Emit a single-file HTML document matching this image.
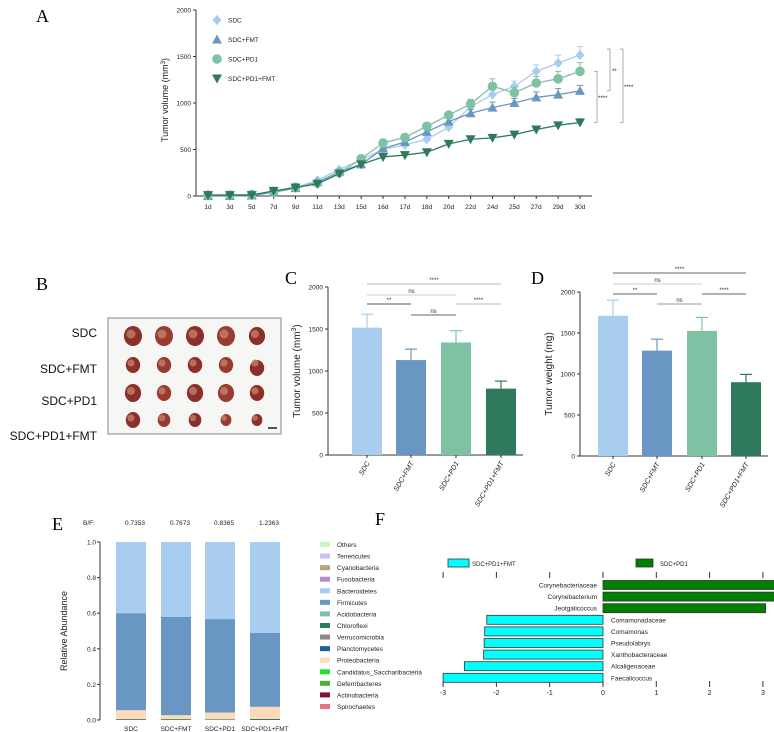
<!DOCTYPE html>
<html><head><meta charset="utf-8"><style>
html,body{margin:0;padding:0;background:#fff;}
svg{display:block;font-family:"Liberation Sans",Arial,sans-serif;}
.pl{font-family:"Liberation Serif",serif;font-size:18px;}
</style></head><body>
<svg id="fig" width="774" height="732" viewBox="0 0 774 732">
<text class="pl" x="36" y="22">A</text>
<text class="pl" x="36" y="290">B</text>
<text class="pl" x="285" y="284">C</text>
<text class="pl" x="531" y="284">D</text>
<text class="pl" x="52" y="530">E</text>
<text class="pl" x="375" y="525">F</text>
<g id="pA"></g>
<g id="pB"></g>
<g id="pC"></g>
<g id="pD"></g>
<g id="pE"></g>
<g id="pF"></g>
</svg>
<script>
// ---------- data ----------
const days = ["1d","3d","5d","7d","9d","11d","13d","15d","16d","17d","18d","20d","22d","24d","25d","27d","29d","30d"];
const seriesNames = ["SDC","SDC+FMT","SDC+PD1","SDC+PD1+FMT"];
const sdcVol = [0,0,10,40,90,170,285,390,500,550,610,740,960,1090,1180,1340,1430,1516];
const fmtVol = [0,0,5,40,85,150,260,340,510,580,690,800,890,950,1000,1060,1090,1130];
const pd1Vol = [10,10,15,50,95,140,250,400,570,630,750,870,990,1180,1110,1215,1260,1340];
const pd1FmtVol = [10,10,10,55,90,130,240,340,420,440,470,560,610,625,660,715,760,790];
const lineErr = [
 [0,0,5,8,10,15,15,20,25,30,30,35,40,50,55,70,85,90],
 [0,0,5,8,10,15,15,20,25,30,30,35,40,60,50,60,65,60],
 [0,0,5,8,10,15,15,20,25,30,40,35,50,80,60,70,80,95],
 [0,0,5,8,10,10,15,15,20,20,20,25,25,30,30,30,30,40]];
const volTicks = [0,500,1000,1500,2000];
const barGroups = ["SDC","SDC+FMT","SDC+PD1","SDC+PD1+FMT"];
const volMeans = [1516,1130,1340,790];
const volErr = [160,130,140,90];
const wtMeans = [1710,1285,1525,900];
const wtErr = [190,140,165,95];
const bfRatios = ["0.7353","0.7673","0.8365","1.2363"];
const proteoFrac = [0.05,0.022,0.038,0.068];
const firmFrac = [0.545,0.553,0.525,0.415];
const otherFrac = [0.005,0.005,0.004,0.006];
const abundTicks = [0,0.2,0.4,0.6,0.8,1.0];
const phyla = ["Others","Tenericutes","Cyanobacteria","Fusobacteria","Bacteroidetes","Firmicutes","Acidobacteria","Chloroflexi","Verrucomicrobia","Planctomycetes","Proteobacteria","Candidatus_Saccharibacteria","Deferribacteres","Actinobacteria","Spirochaetes"];
const taxa = ["Corynebacteriaceae","Corynebacterium","Jeotgalicoccus","Comamonadaceae","Comamonas","Pseudolabrys","Xanthobacteraceae","Alcaligenaceae","Faecalicoccus"];
const ldaScores = [3.38,3.36,3.05,-2.18,-2.22,-2.23,-2.24,-2.6,-3.0];
const ldaTicks = [-3,-2,-1,0,1,2,3];

// ---------- helpers ----------
const NS="http://www.w3.org/2000/svg";
function mk(parent,tag,attrs,txt){const e=document.createElementNS(NS,tag);for(const k in attrs)e.setAttribute(k,attrs[k]);if(txt!==undefined)e.textContent=txt;parent.appendChild(e);return e;}
const colors=["#a9cdef","#6a96c3","#7fc1a3","#2f7a5c"];

// ---------- Panel A ----------
(function(){
 const g=document.getElementById('pA');
 const x0=196,x1=592,yb=196,yt=10;
 const xs=i=>208+i*(580-208)/(days.length-1);
 const ys=v=>yb-(v/2000)*(yb-yt);
 let e=mk(g,'line',{x1:x0,y1:yt,x2:x0,y2:yb,stroke:'#333','stroke-width':1});
 
 e=mk(g,'line',{x1:x0,y1:yb,x2:x1,y2:yb,stroke:'#333','stroke-width':1});
 
 volTicks.forEach(t=>{mk(g,'line',{x1:x0-3,y1:ys(t),x2:x0,y2:ys(t),stroke:'#333'});
  e=mk(g,'text',{x:x0-5,y:ys(t)+2.5,'font-size':6.5,'text-anchor':'end',fill:'#222'},t);
  });
 days.forEach((d,i)=>{mk(g,'line',{x1:xs(i),y1:yb,x2:xs(i),y2:yb+3,stroke:'#333'});
  e=mk(g,'text',{x:xs(i),y:yb+13,'font-size':6.5,'text-anchor':'middle',fill:'#222'},d);
  });
 e=mk(g,'text',{x:0,y:0,'font-size':9,'text-anchor':'middle',fill:'#222',transform:'translate(168,100) rotate(-90)'});
 e.innerHTML='Tumor volume (mm<tspan dy="-3" font-size="6">3</tspan><tspan dy="3">)</tspan>';
 
 const all=[sdcVol,fmtVol,pd1Vol,pd1FmtVol];
 function marker(p,k,x,y){const c=colors[k];let m;
  if(k===0)m=mk(p,'polygon',{points:`${x},${y-5} ${x+4.5},${y} ${x},${y+5} ${x-4.5},${y}`,fill:c});
  else if(k===1)m=mk(p,'polygon',{points:`${x},${y-5} ${x+5},${y+4} ${x-5},${y+4}`,fill:c});
  else if(k===2)m=mk(p,'circle',{cx:x,cy:y,r:4.8,fill:c});
  else m=mk(p,'polygon',{points:`${x-5},${y-4} ${x+5},${y-4} ${x},${y+5}`,fill:c});
  return m;}
 all.forEach((s,k)=>{
  const sg=mk(g,'g',{});
  s.forEach((v,i)=>{const er=lineErr[k][i];if(er>0){mk(sg,'line',{x1:xs(i),y1:ys(v),x2:xs(i),y2:ys(v+er),stroke:colors[k],'stroke-width':1});
   mk(sg,'line',{x1:xs(i)-3,y1:ys(v+er),x2:xs(i)+3,y2:ys(v+er),stroke:colors[k],'stroke-width':1});}});
  mk(sg,'polyline',{points:s.map((v,i)=>xs(i)+','+ys(v)).join(' '),fill:'none',stroke:colors[k],'stroke-width':1.3});
  s.forEach((v,i)=>{const m=marker(sg,k,xs(i),ys(v));});
 });
 seriesNames.forEach((n,k)=>{const ly=20+k*19.5;const lg=mk(g,'g',{});
  
  marker(lg,k,217,ly);mk(lg,'text',{x:228,y:ly+2.5,'font-size':6.5,fill:'#222'},n);});
 // significance brackets
 function br(x,va,vb,lab,lx){mk(g,'polyline',{points:`${x-3},${ys(va)} ${x},${ys(va)} ${x},${ys(vb)} ${x-3},${ys(vb)}`,fill:'none',stroke:'#999','stroke-width':0.8});
  const t=mk(g,'text',{x:lx,y:(ys(va)+ys(vb))/2+3,'font-size':6,fill:'#222'},lab);}
 br(597,1340,790,'****',598);br(610,1580,1130,'**',612);br(623,1580,790,'****',624);
})();

// ---------- Panel B (photo) ----------
(function(){
 const g=document.getElementById('pB');
 let e=mk(g,'rect',{x:108,y:318,width:173,height:116,fill:'#f6f6f4',stroke:'#999','stroke-width':1.2});
 
 const labs=["SDC","SDC+FMT","SDC+PD1","SDC+PD1+FMT"];const ry=[333,369,401,436];
 const sizes=[[10,10,10,10,9],[8,8,8,8,8],[9,8,9,9,8],[8,7,7,6,6]];
 labs.forEach((l,r)=>{e=mk(g,'text',{x:97,y:ry[r]+4,'font-size':12,'text-anchor':'end',fill:'#111'},l);
  
  const yy=[336,365,393,420][r];
  for(let c=0;c<5;c++){const cx=133+c*31;const s=sizes[r][c];
   const t=mk(g,'ellipse',{cx:cx,cy:yy+(r===1&&c===4?3:0),rx:s*0.9,ry:s,fill:c%2?'#9a3b32':'#8c2f2a'});
   
   mk(g,'ellipse',{cx:cx-2,cy:yy-2,rx:s*0.45,ry:s*0.45,fill:'#c98a70',opacity:0.7});}
 });
 mk(g,'rect',{x:268,y:427,width:9,height:2,fill:'#555'});
})();

// ---------- Panels C & D ----------
function barPanel(id,means,errs,ax,yb,yt,centers,title,sig,pre){
 const g=document.getElementById(id);
 const ys=v=>yb-(v/2000)*(yb-yt);
 let e=mk(g,'line',{x1:ax,y1:yt,x2:ax,y2:yb,stroke:'#333'});
 e=mk(g,'line',{x1:ax,y1:yb,x2:centers[3]+22,y2:yb,stroke:'#333'});
 volTicks.forEach(t=>{mk(g,'line',{x1:ax-3,y1:ys(t),x2:ax,y2:ys(t),stroke:'#333'});
  e=mk(g,'text',{x:ax-5,y:ys(t)+2.5,'font-size':6.5,'text-anchor':'end',fill:'#222'},t);});
 means.forEach((m,i)=>{const cx=centers[i];
  mk(g,'line',{x1:cx,y1:ys(m),x2:cx,y2:ys(m+errs[i]),stroke:colors[i],'stroke-width':1.2});
  mk(g,'line',{x1:cx-6,y1:ys(m+errs[i]),x2:cx+6,y2:ys(m+errs[i]),stroke:colors[i],'stroke-width':1.2});
  e=mk(g,'rect',{x:cx-15,y:ys(m),width:30,height:yb-ys(m),fill:colors[i]});
  mk(g,'line',{x1:cx,y1:yb,x2:cx,y2:yb+3,stroke:'#333'});
  e=mk(g,'text',{x:0,y:0,'font-size':7,'font-style':'italic','text-anchor':'end',fill:'#222',transform:`translate(${cx+3},${yb+8}) rotate(-60)`},barGroups[i]);
  });
 e=mk(g,'text',{x:0,y:0,'font-size':10,'text-anchor':'middle',fill:'#222',transform:`translate(${ax-28},${(yb+yt)/2}) rotate(-90)`});
 e.innerHTML=title;
 sig.forEach(s=>{mk(g,'line',{x1:centers[s[0]],y1:s[2],x2:centers[s[1]],y2:s[2],stroke:s[4],'stroke-width':0.9});
  e=mk(g,'text',{x:(centers[s[0]]+centers[s[1]])/2,y:s[2]-2,'font-size':6,'text-anchor':'middle',fill:'#333'},s[3]);});
}
barPanel('pC',volMeans,volErr,328,455,287,[367,411,456,501],'Tumor volume (mm<tspan dy="-4" font-size="7">3</tspan><tspan dy="4">)</tspan>',
 [[0,3,284,'****','#bbb'],[0,2,295,'ns','#ccc'],[0,1,304,'**','#555'],[2,3,304,'****','#bbb'],[1,2,315,'ns','#666']],'c');
barPanel('pD',wtMeans,wtErr,580,456,292,[613,657,702,746],'Tumor weight (mg)',
 [[0,3,273,'****','#666'],[0,2,284,'ns','#ccc'],[0,1,294,'**','#666'],[2,3,294,'****','#666'],[1,2,304,'ns','#999']],'d');

// ---------- Panel E ----------
(function(){
 const g=document.getElementById('pE');
 const ax=100,yb=720,yt=542;const centers=[131,176,220,265];
 const ys=v=>yb-v*(yb-yt);
 let e=mk(g,'text',{x:83,y:525,'font-size':6.5,fill:'#222'},'B/F:');
 bfRatios.forEach((r,i)=>{e=mk(g,'text',{x:centers[i]+4,y:525,'font-size':6.5,'text-anchor':'middle',fill:'#222'},r);});
 e=mk(g,'line',{x1:ax,y1:yt,x2:ax,y2:yb,stroke:'#333'});
 abundTicks.forEach(t=>{mk(g,'line',{x1:ax-3,y1:ys(t),x2:ax,y2:ys(t),stroke:'#333'});
  e=mk(g,'text',{x:ax-4,y:ys(t)+2.5,'font-size':6.5,'text-anchor':'end',fill:'#222'},t.toFixed(1));});
 e=mk(g,'text',{x:0,y:0,'font-size':9,'text-anchor':'middle',fill:'#222',transform:'translate(67,631) rotate(-90)'},'Relative Abundance');
 centers.forEach((cx,i)=>{let acc=0;
  const segs=[[otherFrac[i],'#2f7a5c'],[proteoFrac[i],'#fddbb9'],[firmFrac[i],'#6a96c3'],[1-otherFrac[i]-proteoFrac[i]-firmFrac[i],'#a9cdef']];
  segs.forEach(s=>{e=mk(g,'rect',{x:cx-15,y:ys(acc+s[0]),width:30,height:ys(acc)-ys(acc+s[0]),fill:s[1]});acc+=s[0];});
  e=mk(g,'text',{x:cx,y:731,'font-size':6.5,'text-anchor':'middle',fill:'#222'},barGroups[i]);});
 const lc=['#c6f5c6','#c3c3f5','#b5a57a','#b98ac9','#a9cdef','#6a96c3','#7fc1a3','#2f7a5c','#8a8a8a','#1f5fa0','#fddbb9','#22e03a','#4caf3a','#8b0a3c','#f07080'];
 phyla.forEach((p,k)=>{const y=545+k*11.57;const lg=mk(g,'g',{});
  mk(lg,'rect',{x:320,y:y-3,width:10,height:5,fill:lc[k]});mk(lg,'text',{x:337,y:y+2,'font-size':6.5,fill:'#222'},p);});
})();

// ---------- Panel F ----------
(function(){
 const g=document.getElementById('pF');
 const x0=603,unit=53.3;const xs=v=>x0+v*unit;
 let e=mk(g,'rect',{x:448,y:559,width:21,height:8,fill:'#00ffff',stroke:'#333','stroke-width':0.8});
 mk(g,'text',{x:472,y:566,'font-size':6,fill:'#222'},'SDC+PD1+FMT');
 e=mk(g,'rect',{x:636,y:559,width:17,height:8,fill:'#008000',stroke:'#333','stroke-width':0.8});
 mk(g,'text',{x:660,y:566,'font-size':6,fill:'#222'},'SDC+PD1');
 ldaTicks.forEach(t=>{mk(g,'line',{x1:xs(t),y1:572,x2:xs(t),y2:578,stroke:'#333'});mk(g,'line',{x1:xs(t),y1:681,x2:xs(t),y2:687,stroke:'#333'});
  e=mk(g,'text',{x:xs(t),y:695,'font-size':7,'text-anchor':'middle',fill:'#222'},t);});
 taxa.forEach((n,i)=>{const y=585+i*11.6;const v=ldaScores[i];
  e=mk(g,'rect',{x:Math.min(xs(0),xs(v)),y:y-4.5,width:Math.abs(v)*unit,height:9,fill:v>0?'#008000':'#00ffff',stroke:'#333','stroke-width':0.8});
  
  e=mk(g,'text',{x:v>0?597:611,y:y+2.5,'font-size':6.5,'text-anchor':v>0?'end':'start',fill:'#222'},n);
  });
})();
</script>
</body></html>
